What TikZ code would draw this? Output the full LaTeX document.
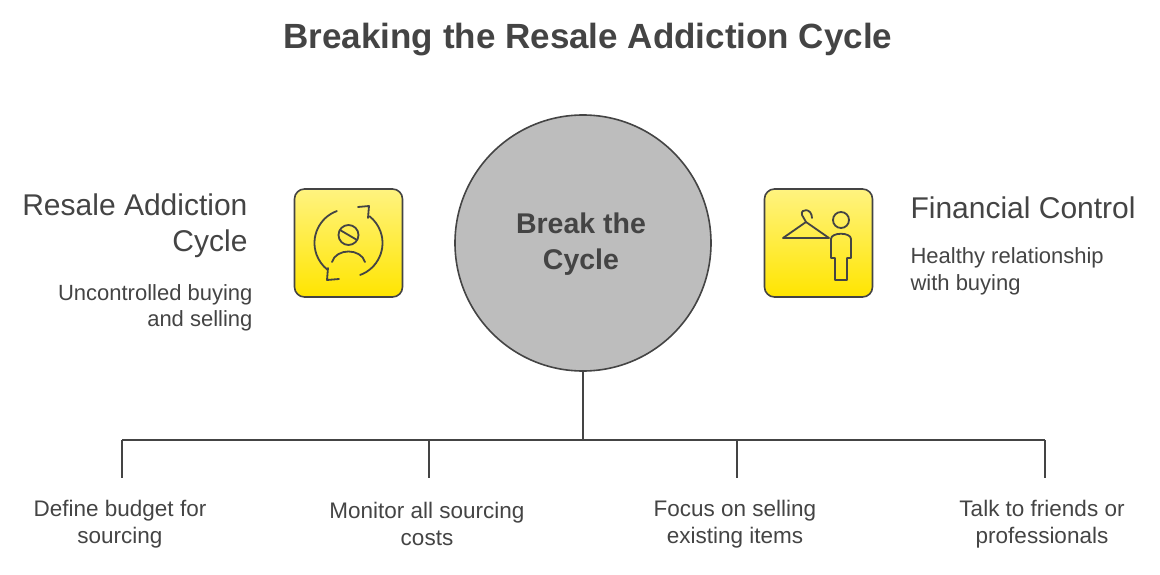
\documentclass[tikz,border=0pt]{standalone}
\usepackage{fontspec}
\setmainfont{Liberation Sans}
\usetikzlibrary{positioning}
\definecolor{ink}{HTML}{444444}
\definecolor{hubgray}{HTML}{BDBDBD}
\definecolor{yelltop}{HTML}{FFF380}
\definecolor{yellbot}{HTML}{FFE500}
\tikzstyle{iconbox}=[draw=ink, line width=1.6pt, rounded corners=10pt, minimum size=108pt, top color=yelltop, bottom color=yellbot]
\tikzstyle{leaf}=[text=ink, font=\fontsize{22.5}{27}\selectfont, align=center]
\tikzstyle{glyph}=[draw=ink, line width=1.8pt, line cap=round, line join=round]
\begin{document}
\begin{tikzpicture}[x=1pt, y=-1pt]
\useasboundingbox (0,0) rectangle (1160,575);
\node [text=ink, font=\bfseries\fontsize{35}{40}\selectfont] (title) at (588,40) {Breaking the Resale Addiction Cycle};
\node [circle, draw=ink, line width=1.6pt, fill=hubgray, minimum size=256pt] (hub) at (583,243){};
\node [text=ink, font=\bfseries\fontsize{28.5}{36}\selectfont, align=center] (hubtxt) at (581,244) {Break the\\Cycle};
\node [iconbox] (lbox) at (348.5,243){};
\node [iconbox] (rbox) at (818.5,243){};
% left side
\node [text=ink, font=\fontsize{30}{36}\selectfont, align=right, anchor=east] (ltitle) at (251,226) {Resale Addiction\\Cycle};
\node [text=ink, font=\fontsize{22}{26}\selectfont, align=right, anchor=east] (lsub) at (256,308) {Uncontrolled buying\\and selling};
% right side
\node [text=ink, font=\fontsize{30}{36}\selectfont, anchor=west] (rtitle) at (907,208) {Financial Control};
\node [text=ink, font=\fontsize{22}{27}\selectfont, align=left, anchor=west] (rsub) at (907,271) {Healthy relationship\\with buying};
% tree
\coordinate (fork) at (583,440);
\coordinate (b1) at (122,440); \coordinate (b2) at (429,440);
\coordinate (b3) at (737,440); \coordinate (b4) at (1045,440);
\node [leaf] (l1) at (120,524) {Define budget for\\sourcing};
\node [leaf] (l2) at (427,524) {Monitor all sourcing\\costs};
\node [leaf] (l3) at (735,524) {Focus on selling\\existing items};
\node [leaf] (l4) at (1042,524) {Talk to friends or\\professionals};
\draw [ink, line width=1.6pt] (hub.south) -- (fork) (b1) -- (b4);
\foreach \b in {b1,b2,b3,b4} \draw [ink, line width=1.6pt] (\b) -- ++(0,38);
% cycle icon
\draw [glyph] (348.5,243) ++(250:34) arc (250:128:34);
\draw [glyph] (348.5,243) ++(70:34) arc (70:-52:34);
\draw [glyph] (358,207) -- (369,206) -- (368,218);
\draw [glyph] (339,279) -- (327,280) -- (328,268);
\draw [glyph] (348.5,235) circle (10);
\draw [glyph] (340,230) -- (357,240);
\draw [glyph] (332,262) .. controls (336,248) and (361,248) .. (365,262);
% hanger and person icon
\draw [glyph] (812,218) .. controls (812,208) and (800,208) .. (802,215) -- (806,222);
\draw [glyph] (806,222) -- (783,238) -- (829,238) -- cycle;
\draw [glyph] (841,220) circle (8);
\draw [glyph] (831,258) -- (831,239) .. controls (831,232) and (851,232) .. (851,239) -- (851,258) -- (847,258) -- (847,280) -- (835,280) -- (835,258) -- cycle;
\end{tikzpicture}
\end{document}
